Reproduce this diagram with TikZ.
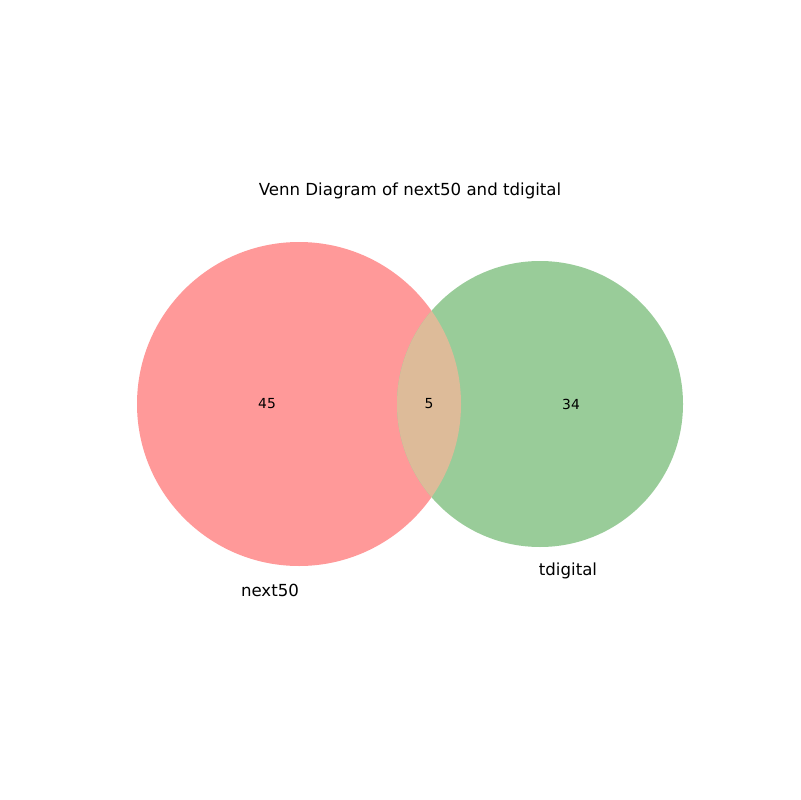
\documentclass[tikz,border=0pt]{standalone}
\usepackage{fontspec}
\setmainfont{DejaVu Sans}
\usetikzlibrary{shapes.geometric}
\definecolor{setA}{HTML}{FF9999}
\definecolor{setB}{HTML}{99CC99}
\definecolor{setAB}{HTML}{DDBB99}
\tikzstyle{count} = [font=\fontsize{10}{12}\selectfont]
\tikzstyle{setlabel} = [font=\fontsize{12}{14}\selectfont]

\begin{document}
\begin{tikzpicture}[x=0.01in,y=-0.01in]
        \useasboundingbox (0,0) rectangle (800,800);
        % \draw[step=100,gray,very thin] (0,0) grid (800,800);
        \fill[setA] (299,404) circle (162);
        \fill[setB] (540,404) circle (143);
        \begin{scope}
            \clip (299,404) circle (162);
            \fill[setAB] (540,404) circle (143);
        \end{scope}
        \node[setlabel] (title) at (410,191) {Venn Diagram of next50 and tdigital};
        \node[count] (onlyA) at (267,404) {45};
        \node[count] (both) at (429,404) {5};
        \node[count] (onlyB) at (571,404) {34};
        \node[setlabel] (labA) at (270,590) {next50};
        \node[setlabel] (labB) at (568,571) {tdigital};
    \end{tikzpicture}
\end{document}
